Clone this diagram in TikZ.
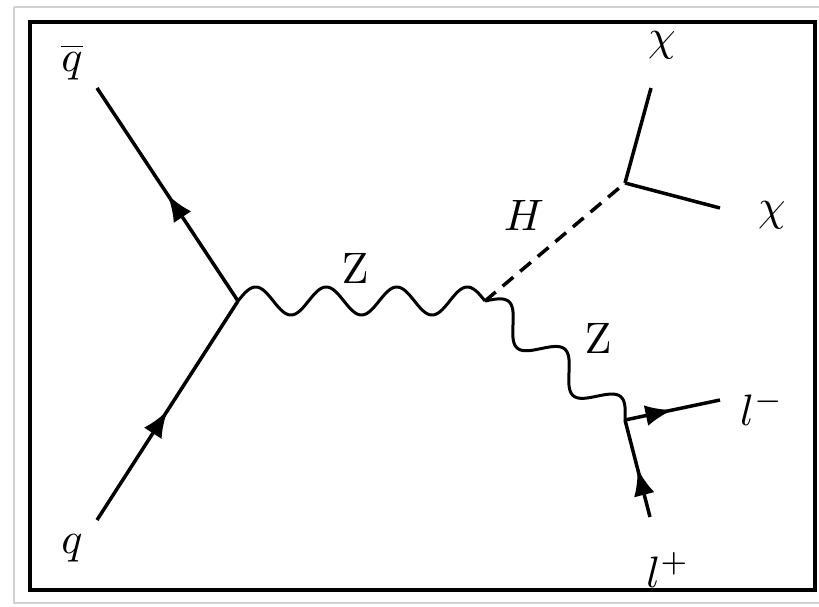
\documentclass[tikz,border=0pt]{standalone}
\usetikzlibrary{calc,decorations.markings,arrows.meta}
\tikzset{
  lab/.style={scale=4.4, inner sep=0pt},
  fermion/.style={line width=3.5pt, postaction={decorate},
    decoration={markings, mark=at position 0.5 with {\arrow{Latex[length=27pt,width=21pt]}}}},
  plain/.style={line width=3.5pt},
  wave/.style={line width=3pt, line join=round},
  scalar/.style={line width=3.5pt, dash pattern=on 14pt off 9pt},
}
\begin{document}
\begin{tikzpicture}[x=1pt,y=-1pt]
\useasboundingbox (0,0) rectangle (819,607);
% frames
\draw[black!18, line width=2pt] (14,7) -- (819,7);
\draw[black!18, line width=2pt] (14,7) -- (14,603) -- (819,603);
\draw[line width=4.5pt] (30,22) rectangle (815,590);
% vertices and end points
\coordinate (v1) at (238,301);
\coordinate (v2) at (485,301);
\coordinate (v3) at (625,183);
\coordinate (v4) at (625,420);
\coordinate (qb) at (97,88);
\coordinate (q) at (97,520);
\coordinate (c1) at (651,88);
\coordinate (c2) at (720,208);
\coordinate (lm) at (720,400);
\coordinate (lp) at (650,517);
\coordinate (v2e) at ($(v1)!2!(v2)$);
\coordinate (v4e) at ($(v2)!2!(v4)$);
% lines
\draw[fermion] (v1) -- (qb);
\draw[fermion] (q) -- (v1);
\draw[wave] (v1) \foreach \i in {1,...,200} {
  -- ($(v1)!{\i/200}!(v2)!{sin(\i*6.3)*14pt}!90:(v2e)$) } -- (v2);
\draw[scalar] (v2) -- (v3);
\draw[plain] (v3) -- (c1);
\draw[plain] (v3) -- (c2);
\draw[wave] (v2) \foreach \i in {1,...,160} {
  -- ($(v2)!{\i/160}!(v4)!{sin(\i*5.625)*15pt}!90:(v4e)$) } -- (v4);
\draw[fermion] (v4) -- (lm);
\draw[fermion] (lp) -- (v4);
% labels
\node[lab] (tqb) at (72,62) {$\overline{q}$};
\node[lab] (tq) at (72,548) {$q$};
\node[lab] (tz1) at (355,268) {$\mathrm{Z}$};
\node[lab] (th) at (524,215) {$H$};
\node[lab] (tz2) at (598,338) {$\mathrm{Z}$};
\node[lab] (tc1) at (662,45) {$\chi$};
\node[lab] (tc2) at (772,215) {$\chi$};
\node[lab] (tlm) at (762,408) {$l^-$};
\node[lab] (tlp) at (668,570) {$l^+$};
\end{tikzpicture}
\end{document}
